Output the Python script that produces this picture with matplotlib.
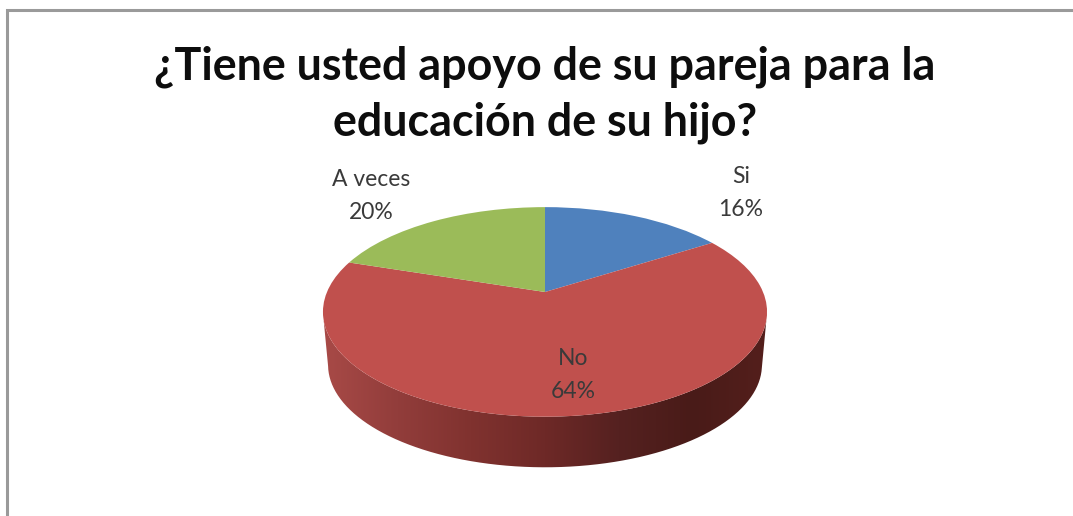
import numpy as np
import matplotlib
matplotlib.use("Agg")
import matplotlib.pyplot as plt
from matplotlib.colors import LinearSegmentedColormap
from matplotlib.path import Path
from matplotlib.transforms import Transform

title = "¿Tiene usted apoyo de su pareja para la\neducación de su hijo?"
categories = ["Si", "No", "A veces"]
values = [16, 64, 20]
colors = ["#4f81bd", "#c0504d", "#9bbb59"]

W, H = 1073, 516
CX, CY, A, B, K = 545, 292, 218, 101, 0.19
DEPTH, BASE_SCALE = 53, 0.977
ELL_CY = 312


class Tilt(Transform):
    input_dims = output_dims = 2

    def transform_non_affine(self, xy):
        xy = np.asarray(xy, float)
        d = 1 + K * xy[:, 1]
        return np.column_stack([CX + A * xy[:, 0] / d, CY - B * xy[:, 1] / d])


fig = plt.figure(figsize=(W / 100, H / 100), dpi=100, facecolor="white")
ax = fig.add_axes([0, 0, 1, 1])
tilt = Tilt()

wedges, _ = ax.pie(values, colors=colors, startangle=90, counterclock=False,
                   wedgeprops=dict(linewidth=0))
for w in wedges:
    w.set_transform(tilt + ax.transData)
    w.set_zorder(3)

# Side wall of the disc
th = np.linspace(0, 2 * np.pi, 721)
rim = tilt.transform_non_affine(np.column_stack([np.cos(th), np.sin(th)]))
lower = rim[rim[:, 1] >= ELL_CY]
lower = lower[np.argsort(lower[:, 0])]
base = np.column_stack([CX + (lower[:, 0] - CX) * BASE_SCALE,
                        ELL_CY + DEPTH + (lower[:, 1] - ELL_CY) * BASE_SCALE])
wall = np.vstack([lower, base[::-1], lower[:1]])
side = LinearSegmentedColormap.from_list(
    "side", ["#a84a47", "#923d3b", "#80322f", "#6e2927", "#552120", "#491b18", "#541f1c"])
im = ax.imshow(np.linspace(0, 1, 256)[None, :], extent=(323, 767, 470, 300),
               aspect="auto", cmap=side, zorder=2)
im.set_clip_path(Path(wall), ax.transData)

ax.set_aspect("auto")
ax.set_xlim(0, W)
ax.set_ylim(H, 0)
ax.axis("off")

# Chart frame
ax.plot([7, 7, W], [H, 10, 10], color="#9a9a9a", lw=2.2, solid_joinstyle="miter", zorder=1)

ax.text(545, 95, title, ha="center", va="center", fontsize=32.3, fontweight="bold",
        family="Lato", color="#0d0d0d", linespacing=1.4)

label_pos = [(741, 193), (573, 375), (371, 196)]
for name, v, (x, y) in zip(categories, values, label_pos):
    ax.text(x, y, f"{name}\n{v}%", ha="center", va="center", fontsize=16.5,
            family="Lato", color="#3a3a3a", linespacing=1.65, zorder=5)

fig.savefig("out.png", dpi=100, facecolor="white")
